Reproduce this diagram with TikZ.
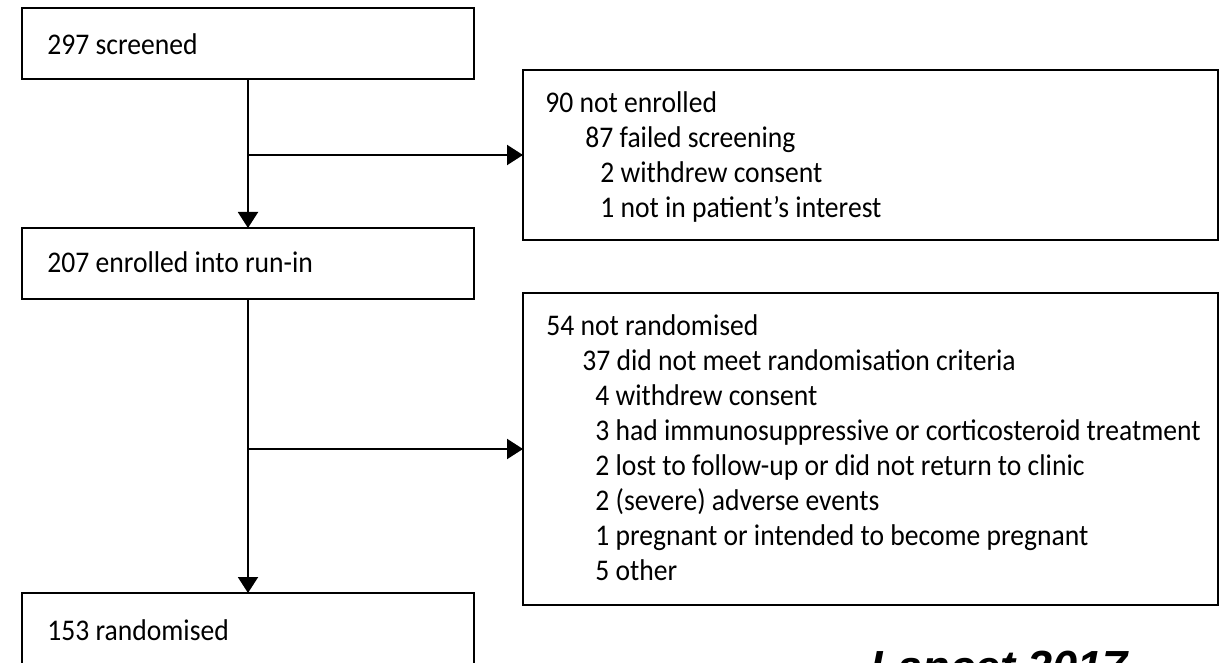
\documentclass[tikz,border=0pt]{standalone}
\usepackage{fontspec}
\setmainfont[FakeStretch=0.92]{Carlito}
\newfontfamily\lancetfont{Liberation Sans}
\usetikzlibrary{arrows.meta}

\begin{document}
\begin{tikzpicture}[x=0.5pt,y=-0.5pt,
	box/.style={draw,line width=1.35pt,rectangle,inner sep=0,outer sep=0,anchor=north west},
	txt/.style={anchor=base west,inner sep=0,font=\fontsize{15pt}{18pt}\selectfont},
	flow/.style={line width=1pt,-{Triangle[width=10pt,length=8pt]}}]
	\useasboundingbox (0,0) rectangle (1220,663);
	\clip (0,0) rectangle (1220,663);
	% main column
	\node[box,minimum width=226pt,minimum height=35.5pt] (screened) at (22,8) {};
	\node[box,minimum width=226pt,minimum height=35.5pt] (runin) at (22,228) {};
	\node[box,minimum width=226pt,minimum height=35.5pt] (random) at (22,593) {};
	\node[txt] (t1) at (47,55) {297 screened};
	\node[txt] (t2) at (47,272) {207 enrolled into run-in};
	\node[txt] (t3) at (47,640) {153 randomised};
	% exclusion boxes
	\node[box,minimum width=347.5pt,minimum height=85pt] (notenrol) at (523,70) {};
	\node[box,minimum width=347.5pt,minimum height=156pt] (notrand) at (523,293) {};
	\node[txt] (a1) at (545,113) {90 not enrolled};
	\node[txt] (a2) at (585,148) {87 failed screening};
	\node[txt] (a3) at (600,183) {2 withdrew consent};
	\node[txt] (a4) at (600,218) {1 not in patient’s interest};
	\node[txt] (b1) at (546,335) {54 not randomised};
	\node[txt] (b2) at (582,370) {37 did not meet randomisation criteria};
	\node[txt] (b3) at (595,405) {4 withdrew consent};
	\node[txt] (b4) at (595,440) {3 had immunosuppressive or corticosteroid treatment};
	\node[txt] (b5) at (595,475) {2 lost to follow-up or did not return to clinic};
	\node[txt] (b6) at (595,510) {2 (severe) adverse events};
	\node[txt] (b7) at (595,545) {1 pregnant or intended to become pregnant};
	\node[txt] (b8) at (595,580) {5 other};
	% connectors
	\draw[flow] (screened.south) -- (runin.north);
	\draw[flow] (screened.south |- notenrol.west) -- (notenrol.west);
	\draw[flow] (runin.south) -- (random.north);
	\draw[flow] (runin.south |- notrand.west) -- (notrand.west);
	% source
	\node[anchor=base west,inner sep=0,font=\lancetfont\bfseries\itshape\fontsize{22.5pt}{27pt}\selectfont] (src) at (870,682) {Lancet 2017};
\end{tikzpicture}
\end{document}
